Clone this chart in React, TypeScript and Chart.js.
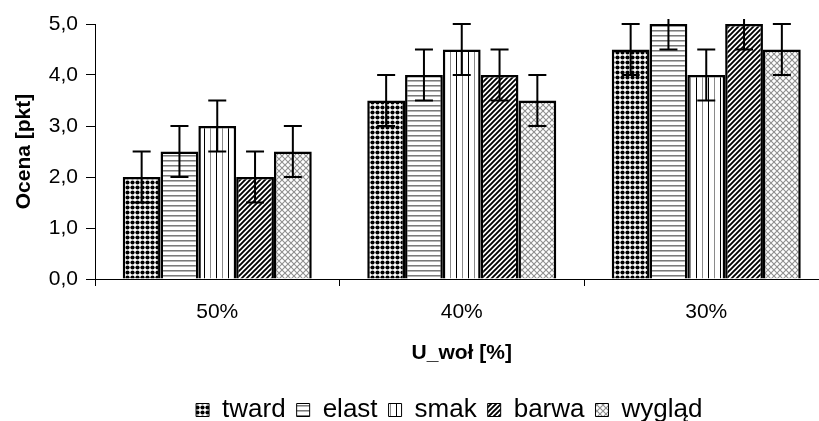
import { useEffect, useRef } from "react";
import { Chart, registerables } from "chart.js";

Chart.register(...registerables);

// ---- data ----
const categories = ["50%", "40%", "30%"];
const seriesNames = ["tward", "elast", "smak", "barwa", "wygląd"];
const twardValues = [2.0, 3.5, 4.5];
const elastValues = [2.5, 4.0, 5.0];
const smakValues = [3.0, 4.5, 4.0];
const barwaValues = [2.0, 4.0, 5.0];
const wygladValues = [2.5, 3.5, 4.5];
const twardErrors = [0.5, 0.5, 0.5];
const elastErrors = [0.5, 0.5, 0.5];
const smakErrors = [0.5, 0.5, 0.5];
const barwaErrors = [0.5, 0.5, 0.5];
const wygladErrors = [0.5, 0.5, 0.5];
const yAxisMin = 0;
const yAxisMax = 5;
const yAxisStep = 1;
const errorClipMax = 5.1;
const xAxisTitle = "U_woł [%]";
const yAxisTitle = "Ocena [pkt]";

const seriesValues = [twardValues, elastValues, smakValues, barwaValues, wygladValues];
const seriesErrors = [twardErrors, elastErrors, smakErrors, barwaErrors, wygladErrors];

const FONT = "'Liberation Sans', Arial, sans-serif";

function makeTile(kind: string): HTMLCanvasElement {
  const c = document.createElement("canvas");
  let w = 5, h = 5;
  if (kind === "vlines") { w = 12; h = 4; }
  if (kind === "cross") { w = 6; h = 6; }
  c.width = w; c.height = h;
  const g = c.getContext("2d")!;
  g.fillStyle = "#fff";
  g.fillRect(0, 0, w, h);
  if (kind === "dots") {
    g.fillStyle = "#000";
    g.beginPath();
    g.arc(2.5, 2.5, 2.1, 0, Math.PI * 2);
    g.fill();
  } else if (kind === "hlines") {
    g.fillStyle = "#7a7a7a";
    g.fillRect(0, 0, w, 1);
    g.fillStyle = "#b5b5b5";
    g.fillRect(0, 1, w, 1);
  } else if (kind === "vlines") {
    g.fillStyle = "#000";
    g.fillRect(0, 0, 1, h);
    g.fillStyle = "#8a8a8a";
    g.fillRect(6, 0, 1, h);
  } else if (kind === "diag") {
    g.strokeStyle = "#000";
    g.lineWidth = 1.9;
    g.beginPath();
    g.moveTo(-1, 6); g.lineTo(6, -1);
    g.moveTo(-3, 3); g.lineTo(3, -3);
    g.moveTo(2, 8); g.lineTo(8, 2);
    g.stroke();
  } else if (kind === "cross") {
    g.strokeStyle = "#8f8f8f";
    g.lineWidth = 1.1;
    g.beginPath();
    g.moveTo(0, 0); g.lineTo(6, 6);
    g.moveTo(6, 0); g.lineTo(0, 6);
    g.stroke();
  }
  return c;
}

const patternKinds = ["dots", "hlines", "vlines", "diag", "cross"];

const errorBarPlugin = {
  id: "errorBars",
  afterDatasetsDraw(chart: any) {
    const ctx = chart.ctx;
    const y = chart.scales.y;
    ctx.save();
    ctx.strokeStyle = "#000";
    ctx.lineWidth = 2;
    chart.data.datasets.forEach((ds: any, i: number) => {
      const meta = chart.getDatasetMeta(i);
      const errs = seriesErrors[i];
      meta.data.forEach((bar: any, j: number) => {
        const v = ds.data[j];
        const e = errs[j];
        const hi = v + e;
        const lo = v - e;
        const yHi = y.getPixelForValue(Math.min(hi, errorClipMax));
        const yLo = y.getPixelForValue(lo);
        const x = bar.x;
        ctx.beginPath();
        ctx.moveTo(x, yHi);
        ctx.lineTo(x, yLo);
        ctx.moveTo(x - 9, yLo);
        ctx.lineTo(x + 9, yLo);
        if (hi <= errorClipMax) {
          ctx.moveTo(x - 9, yHi);
          ctx.lineTo(x + 9, yHi);
        }
        ctx.stroke();
      });
    });
    ctx.restore();
  },
};

const legendShiftPlugin = {
  id: "legendShift",
  afterLayout(chart: any) {
    const lg = chart.legend;
    if (lg) {
      const dx = 35;
      lg.left += dx;
      lg.right += dx;
    }
  },
};

export default function App() {
  const ref = useRef<HTMLCanvasElement | null>(null);

  useEffect(() => {
    if (!ref.current) return;
    const ctx = ref.current.getContext("2d")!;
    const patterns = patternKinds.map((k) => ctx.createPattern(makeTile(k), "repeat"));

    const datasets = seriesNames.map((name, i) => ({
      label: name,
      data: seriesValues[i],
      backgroundColor: patterns[i] as any,
      borderColor: "#000",
      borderWidth: 2.5,
      categoryPercentage: 0.773,
      barPercentage: 1,
    }));

    const chart = new Chart(ctx, {
      type: "bar",
      data: { labels: categories, datasets },
      plugins: [errorBarPlugin, legendShiftPlugin],
      options: {
        animation: false,
        responsive: false,
        devicePixelRatio: 1,
        layout: { padding: { top: 24, left: 0, right: 11.5, bottom: 0 } },
        plugins: {
          tooltip: { enabled: false },
          legend: {
            position: "bottom",
            labels: {
              color: "#000",
              font: { family: FONT, size: 26 },
              boxWidth: 13,
              boxHeight: 13,
              padding: 11,
              generateLabels: (c: any) =>
                (Chart.defaults.plugins.legend.labels.generateLabels as any)(c).map((l: any) => ({
                  ...l,
                  lineWidth: 1,
                })),
            },
          },
        },
        scales: {
          x: {
            type: "category",
            offset: true,
            grid: {
              offset: true,
              drawOnChartArea: false,
              drawTicks: true,
              tickLength: 7,
              color: "#000",
            },
            border: { color: "#000", width: 1 },
            ticks: {
              color: "#000",
              font: { family: FONT, size: 21 },
              padding: 14,
              maxRotation: 0,
            },
            title: {
              display: true,
              text: xAxisTitle,
              color: "#000",
              font: { family: FONT, size: 21, weight: "bold" },
              padding: { top: 0, bottom: 20 },
            },
            afterFit: (s: any) => {
              s.height = 107;
            },
          },
          y: {
            min: yAxisMin,
            max: yAxisMax,
            grid: {
              drawOnChartArea: false,
              drawTicks: true,
              tickLength: 9,
              color: "#000",
            },
            border: { color: "#000", width: 1 },
            ticks: {
              stepSize: yAxisStep,
              color: "#000",
              font: { family: FONT, size: 21 },
              padding: 8,
              callback: (v: any) => Number(v).toFixed(1).replace(".", ","),
            },
            title: {
              display: true,
              text: yAxisTitle,
              color: "#000",
              font: { family: FONT, size: 21, weight: "bold" },
              padding: { top: 12, bottom: 0 },
            },
            afterFit: (s: any) => {
              s.width = 95;
            },
          },
        },
      } as any,
    });
    return () => chart.destroy();
  }, []);

  return (
    <div
      style={{
        position: "fixed",
        left: 0,
        top: 0,
        width: 819,
        height: 421,
        overflow: "hidden",
        background: "#fff",
      }}
    >
      <canvas ref={ref} width={840} height={433} style={{ width: 840, height: 433, display: "block" }} />
    </div>
  );
}
